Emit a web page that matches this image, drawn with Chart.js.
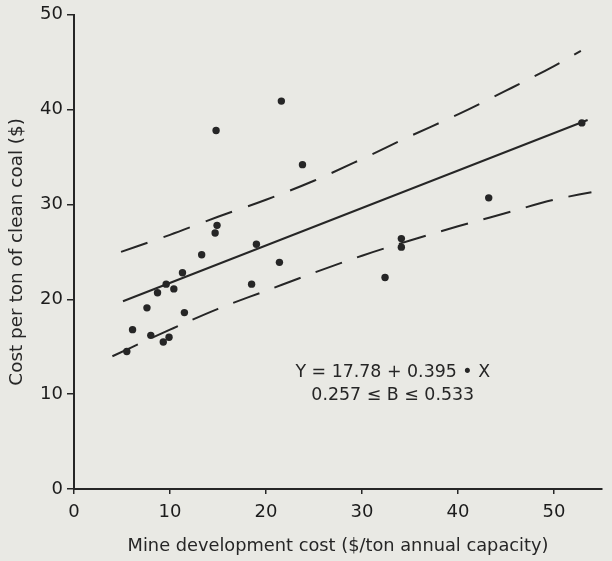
<!DOCTYPE html>
<html>
<head>
<meta charset="utf-8">
<title>Clean coal cost vs mine development cost</title>
<script src="https://cdn.jsdelivr.net/npm/chart.js@4/dist/chart.umd.min.js"></script>
<style>
  html, body { margin: 0; padding: 0; background: #e9e9e4; }
  #wrap { width: 612px; height: 561px; }
</style>
</head>
<body>
<div id="wrap"><canvas id="costChart" width="612" height="561"></canvas></div>
<script>
// Mine observations: development cost ($/ton annual capacity) vs cost per ton of clean coal ($)
const mineDevCost = [5.5, 6.1, 7.6, 8.0, 8.7, 9.3, 9.6, 9.9, 10.4, 11.3, 11.5, 13.3, 14.7, 14.9, 14.8,
                     18.5, 19.0, 21.4, 21.6, 23.8, 32.4, 34.1, 34.1, 43.2, 52.9];
const cleanCoalCost = [14.5, 16.8, 19.1, 16.2, 20.7, 15.5, 21.6, 16.0, 21.1, 22.8, 18.6, 24.7, 27.0, 27.8, 37.8,
                       21.6, 25.8, 23.9, 40.9, 34.2, 22.3, 26.4, 25.5, 30.7, 38.6];

// Least-squares fit and the range it is drawn over
const intercept = 17.78;
const slope = 0.395;
const slopeLow = 0.257;
const slopeHigh = 0.533;
const fitRange = [5.1, 53.5];

// Confidence band limits
const upperBandX = [4.9, 10, 15, 20, 25, 30, 35, 40, 45, 50, 52.8];
const upperBandY = [25.0, 26.8, 28.7, 30.5, 32.5, 34.8, 37.2, 39.5, 42.0, 44.6, 46.2];
const lowerBandX = [4.0, 10, 15, 20, 25, 30, 35, 40, 45, 50, 53.9];
const lowerBandY = [14.0, 16.8, 19.0, 20.9, 22.8, 24.6, 26.2, 27.7, 29.1, 30.5, 31.3];

const xTicks = [0, 10, 20, 30, 40, 50];
const yTicks = [0, 10, 20, 30, 40, 50];

const INK = '#262626';
const FONT = '"DejaVu Sans", Verdana, sans-serif';

const toPoints = (xs, ys) => xs.map((x, i) => ({ x: x, y: ys[i] }));

// equation block in the lower right of the plot
const equationLabel = {
  id: 'equationLabel',
  afterDatasetsDraw(chart) {
    const { ctx, scales: { x, y } } = chart;
    const cx = x.getPixelForValue(33.2);
    const cy = y.getPixelForValue(12.3);
    ctx.save();
    ctx.fillStyle = INK;
    ctx.font = '17.4px ' + FONT;
    ctx.textAlign = 'center';
    ctx.textBaseline = 'middle';
    ctx.fillText('Y = ' + intercept.toFixed(2) + ' + ' + slope.toFixed(3) + ' \u2022 X', cx, cy);
    ctx.fillText(slopeLow.toFixed(3) + ' \u2264 B \u2264 ' + slopeHigh.toFixed(3), cx, cy + 23);
    ctx.restore();
  }
};

const axisTicks = (values) => (scale) => { scale.ticks = values.map(v => ({ value: v })); };

new Chart(document.getElementById('costChart').getContext('2d'), {
  type: 'scatter',
  data: {
    datasets: [
      {
        label: 'Mines',
        data: toPoints(mineDevCost, cleanCoalCost),
        showLine: false,
        pointRadius: 3.7,
        pointBackgroundColor: INK,
        pointBorderWidth: 0
      },
      {
        label: 'Fit',
        data: fitRange.map(x => ({ x: x, y: intercept + slope * x })),
        showLine: true,
        borderColor: INK,
        borderWidth: 2,
        pointRadius: 0
      },
      {
        label: 'Upper limit',
        data: toPoints(upperBandX, upperBandY),
        showLine: true,
        borderColor: INK,
        borderWidth: 2,
        borderDash: [28, 17],
        cubicInterpolationMode: 'monotone',
        pointRadius: 0
      },
      {
        label: 'Lower limit',
        data: toPoints(lowerBandX, lowerBandY),
        showLine: true,
        borderColor: INK,
        borderWidth: 2,
        borderDash: [28, 16],
        cubicInterpolationMode: 'monotone',
        pointRadius: 0
      }
    ]
  },
  options: {
    responsive: false,
    animation: false,
    layout: { padding: { top: 12, right: 10, left: 0, bottom: 0 } },
    plugins: { legend: { display: false }, tooltip: { enabled: false } },
    scales: {
      x: {
        type: 'linear',
        min: 0,
        max: 55,
        afterBuildTicks: axisTicks(xTicks),
        afterFit: s => { s.height = 72; },
        border: { display: true, color: INK, width: 2 },
        grid: { drawOnChartArea: false, drawTicks: true, tickLength: 5, color: INK, lineWidth: 1.5 },
        ticks: { color: '#1c1c1c', padding: 8, maxRotation: 0, font: { family: FONT, size: 18 } },
        title: {
          display: true,
          text: 'Mine development cost ($/ton annual capacity)',
          color: INK,
          padding: { top: 0, bottom: 4 },
          font: { family: FONT, size: 17.8 }
        }
      },
      y: {
        type: 'linear',
        min: 0,
        max: 50,
        afterBuildTicks: axisTicks(yTicks),
        afterFit: s => { s.width = 74; },
        border: { display: true, color: INK, width: 2 },
        grid: { drawOnChartArea: false, drawTicks: true, tickLength: 7, color: INK, lineWidth: 1.5 },
        ticks: { color: '#1c1c1c', padding: 4, font: { family: FONT, size: 18 } },
        title: {
          display: true,
          text: 'Cost per ton of clean coal ($)',
          color: INK,
          padding: { top: 6, bottom: 0 },
          font: { family: FONT, size: 18.4 }
        }
      }
    }
  },
  plugins: [equationLabel]
});
</script>
</body>
</html>
